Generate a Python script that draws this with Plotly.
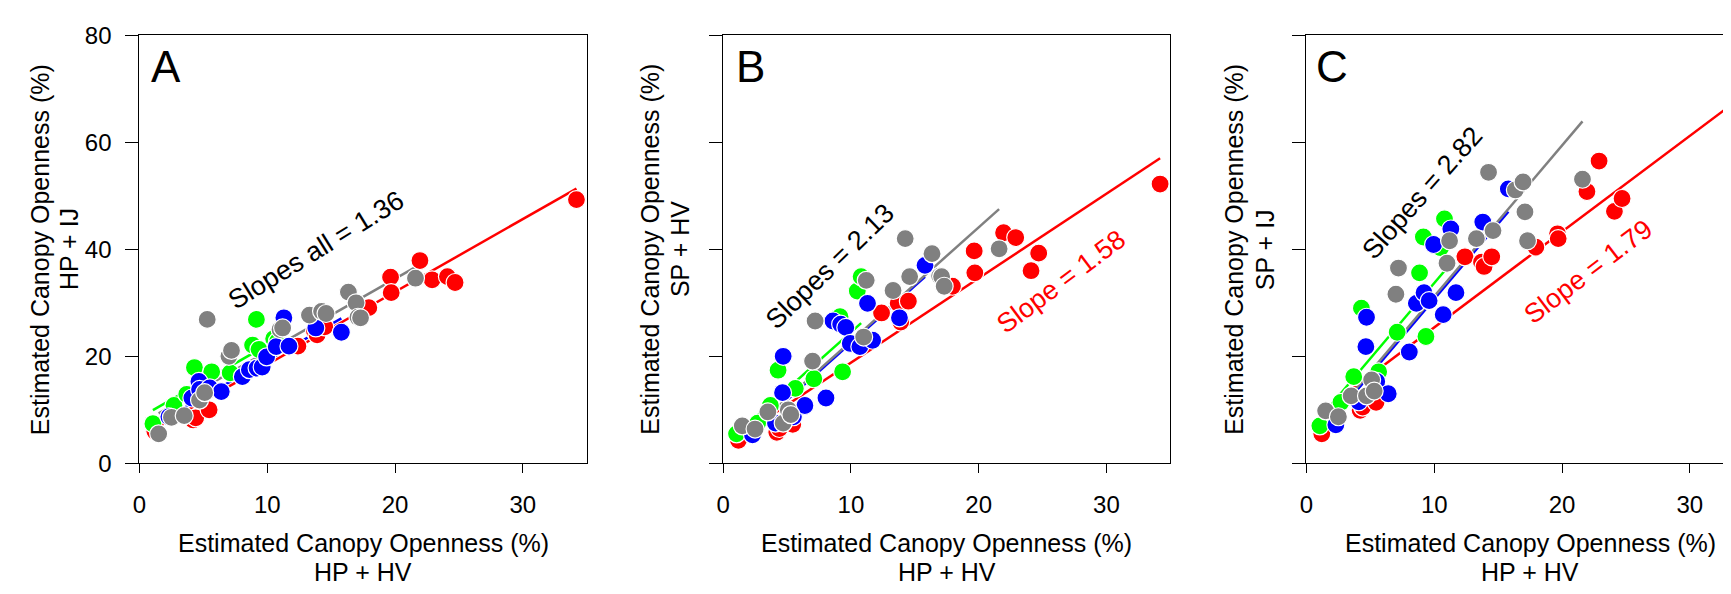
import plotly.graph_objects as go

# x = Estimated Canopy Openness (%) HP + HV, shared by all three panels
red_x = [1.2, 4.2, 4.4, 5.45, 12.4, 13.7, 13.9, 14.5, 17.95, 19.65, 19.7, 21.95, 22.9, 24.1, 24.7, 34.2]
red_a = [6.0, 8.1, 8.5, 10.0, 21.9, 24.7, 24.0, 25.5, 29.1, 34.8, 31.9, 37.9, 34.3, 34.9, 33.8, 49.3]
red_b = [4.3, 5.8, 6.5, 7.3, 28.1, 29.9, 26.4, 30.3, 33.1, 39.7, 35.6, 43.1, 42.2, 36.0, 39.3, 52.2]
red_c = [5.5, 9.9, 10.5, 11.4, 38.6, 37.6, 36.8, 38.6, 40.4, 42.9, 42.0, 50.8, 56.5, 47.1, 49.5, 54.4]

green_x = [1.05, 2.7, 3.7, 4.3, 5.65, 7.1, 8.85, 9.15, 9.35, 10.5, 10.8]
green_a = [7.4, 10.8, 12.9, 17.9, 17.1, 16.9, 22.1, 26.9, 21.3, 23.3, 22.8]
green_b = [5.5, 7.5, 10.8, 17.4, 14.0, 15.8, 27.0, 27.4, 17.1, 32.2, 34.9]
green_c = [7.0, 11.4, 16.2, 29.0, 17.1, 24.5, 35.6, 42.3, 23.7, 40.3, 45.7]

blue_x = [2.3, 4.1, 4.65, 4.7, 5.5, 6.4, 8.05, 8.6, 9.2, 9.6, 9.95, 10.7, 11.3, 11.7, 13.8, 15.8]
blue_a = [8.7, 12.2, 15.3, 13.8, 14.1, 13.4, 16.2, 17.5, 17.8, 18.0, 19.9, 21.8, 27.2, 21.9, 25.3, 24.5]
blue_b = [5.3, 7.5, 13.2, 20.0, 8.7, 10.8, 12.2, 26.6, 26.0, 25.4, 22.4, 21.8, 29.9, 23.0, 27.2, 37.0]
blue_c = [7.2, 11.5, 21.8, 27.3, 15.3, 13.0, 20.8, 29.9, 31.9, 30.4, 40.9, 27.8, 43.8, 31.9, 45.1, 51.3]

gray_x = [1.5, 2.5, 3.5, 4.7, 5.1, 5.3, 7.0, 7.2, 11.0, 11.2, 13.3, 14.25, 14.6, 16.35, 16.95, 17.1, 17.3, 21.6]
gray_a = [5.5, 8.6, 8.9, 11.8, 13.2, 26.9, 20.0, 21.1, 25.0, 25.3, 27.7, 28.4, 28.0, 32.0, 30.0, 27.3, 27.2, 34.6]
gray_b = [7.0, 6.4, 9.6, 7.5, 10.0, 9.1, 19.1, 26.6, 23.6, 34.2, 32.3, 42.0, 34.9, 39.2, 35.0, 34.9, 33.1, 40.1]
gray_c = [9.8, 8.7, 12.6, 12.6, 15.6, 13.5, 31.6, 36.5, 37.4, 41.6, 42.0, 54.4, 43.5, 51.1, 52.6, 47.0, 41.6, 53.1]

# regression lines (intercept, slope) per panel, order: red, green, blue, gray
fits_a = [(4.85, 1.36), (8.5, 1.36), (5.6, 1.36), (7.3, 1.36)]
fits_b = [(3.0, 1.58), (3.2, 2.13), (1.2, 2.13), (1.5, 2.13)]
fits_c = [(7.5, 1.79), (5.5, 2.82), (2.5, 2.82), (3.0, 2.82)]

panel_letters = ["A", "B", "C"]
y_titles = ["HP + IJ", "SP + HV", "SP + IJ"]
x_ticks = [0, 10, 20, 30]
y_ticks = [0, 20, 40, 60, 80]

colors = ["#ff0000", "#00ff00", "#0000ff", "#808080"]
groups_x = [red_x, green_x, blue_x, gray_x]
panels_y = [
    [red_a, green_a, blue_a, gray_a],
    [red_b, green_b, blue_b, gray_b],
    [red_c, green_c, blue_c, gray_c],
]
fits = [fits_a, fits_b, fits_c]

FONT = "Liberation Sans, Arial, sans-serif"
H = 594
W = 1731
y_dom = [1 - 462.3 / H, 1 - 14 / H]
x_doms = [[125 / W, 574 / W], [711 / W, 1160 / W], [1296.7 / W, 1.0]]
x_ranges = [[0, 35], [0, 35], [0, 33.85]]

fig = go.Figure()

for p in range(3):
    xa = "x" if p == 0 else f"x{p+1}"
    ya = "y" if p == 0 else f"y{p+1}"
    for g in range(4):
        xs = groups_x[g]
        a, b = fits[p][g]
        lx = [min(xs), max(xs)]
        fig.add_trace(go.Scatter(x=lx, y=[a + b * v for v in lx], mode="lines",
                                 line=dict(color=colors[g], width=2.5),
                                 xaxis=xa, yaxis=ya, hoverinfo="skip"))
    for g in range(4):
        fig.add_trace(go.Scatter(x=groups_x[g], y=panels_y[p][g], mode="markers",
                                 marker=dict(color=colors[g], size=18,
                                             line=dict(color="white", width=1.2)),
                                 xaxis=xa, yaxis=ya))

axis_common = dict(showline=True, linecolor="black", linewidth=1.3, showgrid=False,
                   zeroline=False, ticks="outside", tickcolor="black", tickwidth=1.3,
                   tickfont=dict(family=FONT, size=24, color="black"))

for p in range(3):
    xkey = "xaxis" if p == 0 else f"xaxis{p+1}"
    ykey = "yaxis" if p == 0 else f"yaxis{p+1}"
    fig.update_layout({
        xkey: dict(axis_common, domain=x_doms[p], range=x_ranges[p], tickvals=x_ticks,
                   ticklen=9, mirror=True, ticklabelstandoff=11,
                   anchor="y" if p == 0 else f"y{p+1}"),
        ykey: dict(axis_common, domain=y_dom, range=[0, 80], tickvals=y_ticks,
                   ticklen=13, mirror=(p < 2), showticklabels=(p == 0),
                   ticklabelstandoff=9,
                   anchor="x" if p == 0 else f"x{p+1}"),
    })

annotations = []
title_font = dict(family=FONT, size=25, color="black")
y_title_x = [[25, 55], [638, 668.5], [1224.5, 1255]]
y_mid = 0.5 * (y_dom[0] + y_dom[1])
for p in range(3):
    xref = "x" if p == 0 else f"x{p+1}"
    yref = "y" if p == 0 else f"y{p+1}"
    cx = (x_doms[p][0] * W + 224.5) / W
    annotations += [
        dict(text="Estimated Canopy Openness (%)", x=cx, y=1 - 546 / H),
        dict(text="HP + HV", x=cx, y=1 - 576.5 / H),
        dict(text="Estimated Canopy Openness (%)", x=y_title_x[p][0] / W, y=y_mid, textangle=-90),
        dict(text=y_titles[p], x=y_title_x[p][1] / W, y=y_mid, textangle=-90),
    ]
    annotations[-4:] = [dict(a, xref="paper", yref="paper", xanchor="center", yanchor="middle",
                             showarrow=False, font=title_font) for a in annotations[-4:]]
    annotations.append(
        dict(text=panel_letters[p], x=27 / 449, y=1 - 32.2 / 448.3,
             xref=f"{xref} domain", yref=f"{yref} domain", showarrow=False,
             xanchor="center", yanchor="middle",
             font=dict(family=FONT, size=44, color="black")))

note_font = dict(family=FONT, size=27, color="black")
red_font = dict(family=FONT, size=27, color="#ff0000")
slope_notes = [
    ("Slopes all = 1.36", 13.84, 39.8, "x", "y", -31.6, note_font),
    ("Slopes = 2.13", 8.39, 36.85, "x2", "y2", -44, note_font),
    ("Slope = 1.58", 26.42, 33.9, "x2", "y2", -36.8, red_font),
    ("Slopes = 2.82", 9.04, 50.6, "x3", "y3", -48.6, note_font),
    ("Slope = 1.79", 22.02, 35.8, "x3", "y3", -37.2, red_font),
]
for text, x, y, xr, yr, ang, fnt in slope_notes:
    annotations.append(dict(text=text, x=x, y=y, xref=xr, yref=yr, textangle=ang,
                            xanchor="center", yanchor="middle", showarrow=False, font=fnt))

fig.update_layout(width=W, height=H, margin=dict(l=0, r=0, t=0, b=0),
                  paper_bgcolor="white", plot_bgcolor="white", showlegend=False,
                  annotations=annotations)

fig.write_html("out.html")
